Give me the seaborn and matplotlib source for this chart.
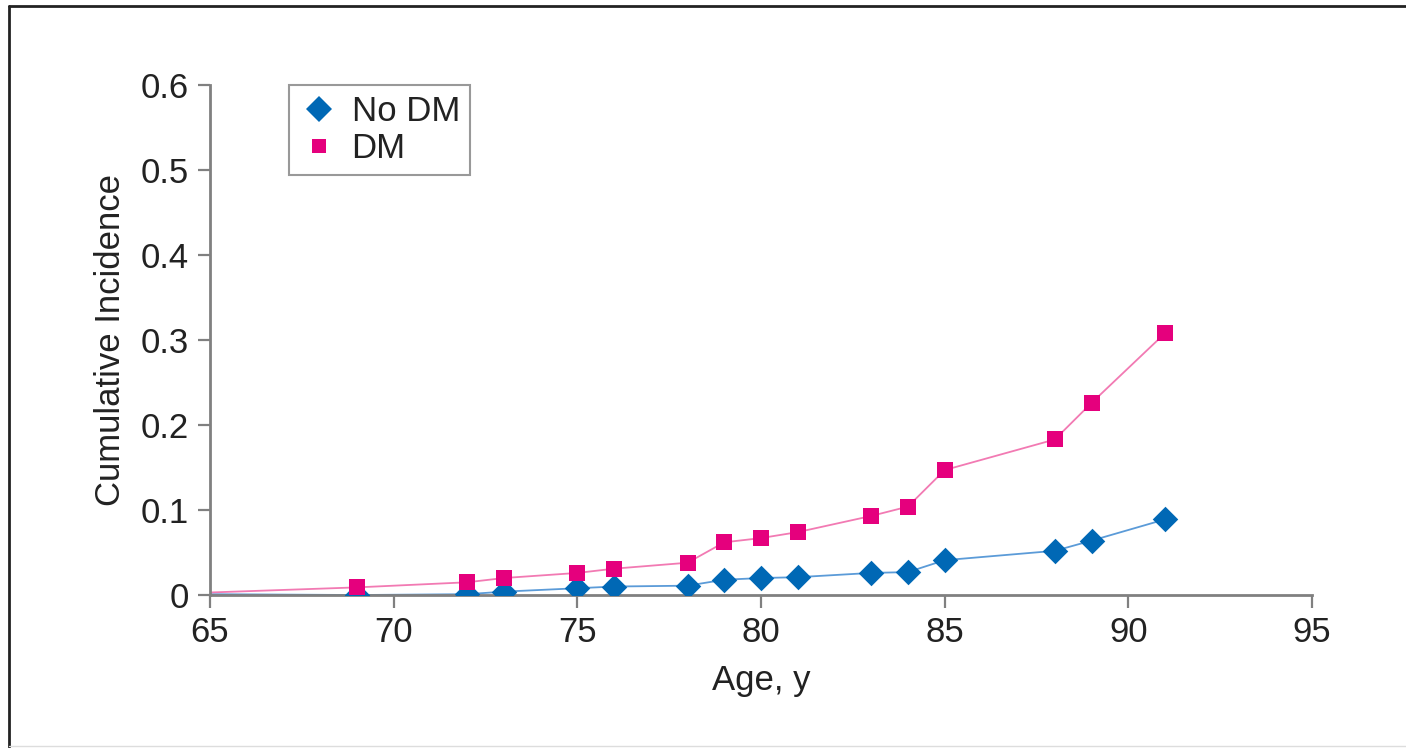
import matplotlib
matplotlib.use("Agg")
import matplotlib.pyplot as plt
from matplotlib.lines import Line2D
import seaborn as sns
import pandas as pd

# data (first point at 65 is line start only, no marker)
ages = [65, 69, 72, 73, 75, 76, 78, 79, 80, 81, 83, 84, 85, 88, 89, 91]
no_dm = [0.001, 0.0, 0.001, 0.004, 0.008, 0.010, 0.011, 0.018, 0.020, 0.021,
         0.026, 0.027, 0.041, 0.052, 0.064, 0.089]
dm = [0.003, 0.009, 0.015, 0.020, 0.026, 0.031, 0.038, 0.062, 0.067, 0.074,
      0.093, 0.104, 0.147, 0.183, 0.226, 0.308]
groups = ["No DM", "DM"]
x_ticks = [65, 70, 75, 80, 85, 90, 95]
y_ticks = [0, 0.1, 0.2, 0.3, 0.4, 0.5, 0.6]
y_tick_labels = ["0", "0.1", "0.2", "0.3", "0.4", "0.5", "0.6"]

marker_colors = {"No DM": "#0068B5", "DM": "#E5007D"}
line_colors = {"No DM": "#5B9BD8", "DM": "#F27AB3"}
marker_shapes = {"No DM": "D", "DM": "s"}
marker_sizes = {"No DM": 13, "DM": 11.5}

df = pd.DataFrame({
    "Age": ages * 2,
    "Incidence": no_dm + dm,
    "Group": ["No DM"] * len(ages) + ["DM"] * len(ages),
})
pts = df[df["Age"] > ages[0]]

sns.set_theme(style="white")
plt.rcParams["font.family"] = ["Liberation Sans", "DejaVu Sans"]

fig = plt.figure(figsize=(14.06, 7.48), dpi=100)
ax = fig.add_axes([0.1494, 0.2045, 0.7837, 0.6819])

sns.lineplot(data=df, x="Age", y="Incidence", hue="Group", palette=line_colors,
             linewidth=1.3, legend=False, ax=ax, zorder=2)
for g in groups:
    sub = pts[pts["Group"] == g]
    sns.scatterplot(data=sub, x="Age", y="Incidence", color=marker_colors[g],
                    marker=marker_shapes[g], s=marker_sizes[g] ** 2, linewidth=0,
                    legend=False, ax=ax, zorder=3)

ax.set_xlim(65, 95)
ax.set_ylim(0, 0.6)
ax.set_xticks(x_ticks)
ax.set_yticks(y_ticks)
ax.set_yticklabels(y_tick_labels)
ax.tick_params(axis="both", labelsize=25, colors="#808080", labelcolor="#222222",
               length=9, width=1.6, direction="out", pad=6)
ax.tick_params(axis="x", bottom=True)
ax.tick_params(axis="y", left=True)
for side in ["top", "right"]:
    ax.spines[side].set_visible(False)
for side in ["left", "bottom"]:
    ax.spines[side].set_color("#808080")
    ax.spines[side].set_linewidth(2)

ax.set_xlabel("Age, y", fontsize=25, color="#222222", labelpad=11)
ax.set_ylabel("Cumulative Incidence", fontsize=25, color="#222222", labelpad=10)

handles = [Line2D([], [], linestyle="none", marker=marker_shapes[g],
                  markerfacecolor=marker_colors[g], markeredgewidth=0,
                  markersize=13 if g == "No DM" else 10) for g in groups]
leg = ax.legend(handles, groups, loc="upper left", bbox_to_anchor=(0.0717, 1.0),
                borderaxespad=0, fontsize=25, frameon=True, fancybox=False,
                handlelength=1.1, handletextpad=0.4, borderpad=0.3,
                labelspacing=0.1)
leg.get_frame().set_edgecolor("#808080")
leg.get_frame().set_linewidth(1.5)
for t in leg.get_texts():
    t.set_color("#222222")

# outer frame of the figure panel
fig.add_artist(Line2D([9 / 1406, 9 / 1406], [1 - 747 / 748, 1 - 6 / 748],
                      transform=fig.transFigure, color="#222222", linewidth=2))
fig.add_artist(Line2D([9 / 1406, 1.0], [1 - 6 / 748, 1 - 6 / 748],
                      transform=fig.transFigure, color="#222222", linewidth=2))
fig.add_artist(Line2D([9 / 1406, 1.0], [1 - 746 / 748, 1 - 746 / 748],
                      transform=fig.transFigure, color="#dddddd", linewidth=1))

fig.savefig("out.png", dpi=100)
